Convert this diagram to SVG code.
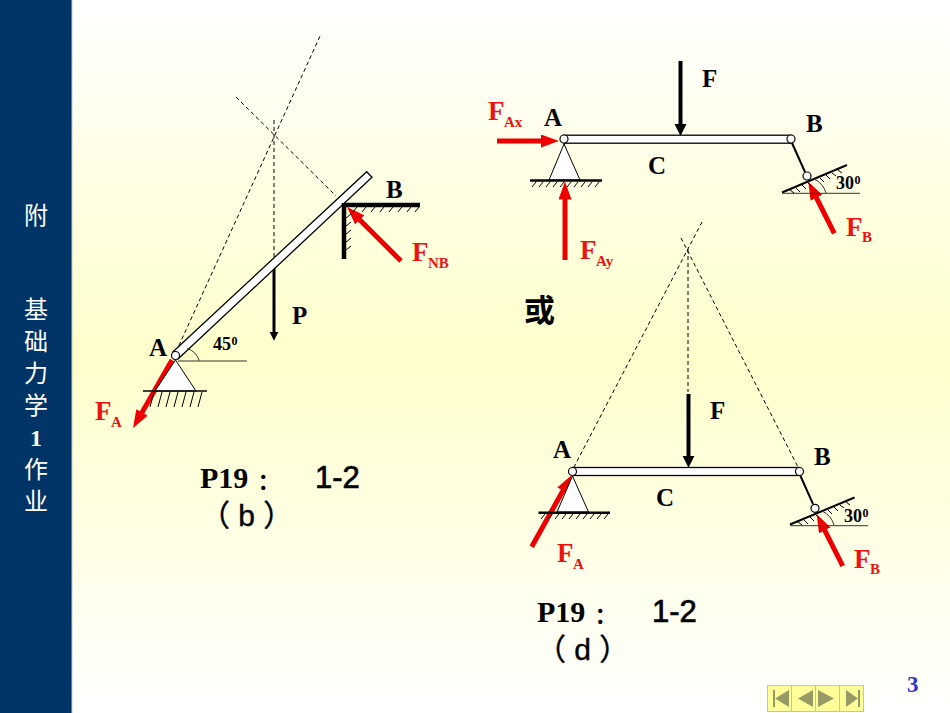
<svg xmlns="http://www.w3.org/2000/svg" width="950" height="713" viewBox="0 0 950 713">
<style>
text{font-family:"Liberation Serif","Noto Sans CJK SC",serif;font-weight:bold}
.lab{font-size:25px;fill:#000}
.red{font-size:27px;fill:#ee1111}
.sub{font-size:15px;fill:#ee1111}
.ang{font-size:18px;fill:#000}
.sup{font-size:12px;fill:#000}
.hd{font-size:30px;fill:#000}
.col{font-family:"Noto Sans CJK SC",sans-serif;font-size:22px;font-weight:bold}
.sans{font-family:"Liberation Sans",sans-serif;font-size:31px;font-weight:normal;fill:#000;stroke:#000;stroke-width:.7}
.par{font-family:"Liberation Sans","Noto Sans CJK SC",sans-serif;font-size:30px;font-weight:normal;fill:#000;stroke:#000;stroke-width:.4}
.side{font-family:"Noto Sans CJK SC","Liberation Serif",sans-serif;font-size:24px;font-weight:normal;fill:#fff;text-anchor:middle}
.dash{fill:none;stroke:#000;stroke-width:1;stroke-dasharray:4 3}
.fr{fill:none;stroke:#ee0000;stroke-width:5;marker-end:url(#hr)}
.fk{fill:none;stroke:#000;stroke-width:4;marker-end:url(#hk)}
.bar{fill:#fff;stroke:#000;stroke-width:1.3}
.pin{fill:#fff;stroke:#000;stroke-width:1.2}
.hat{fill:none;stroke:#000;stroke-width:1}
.thin{fill:none;stroke:#333;stroke-width:1}
.gnd{fill:none;stroke:#000;stroke-width:2.5}
.nav{fill:#ffff99;stroke:#cccc77;stroke-width:1}
.gl{fill:#999966}
</style>
<defs>
<linearGradient id="bg" x1="0" y1="0" x2="0" y2="1">
<stop offset="0" stop-color="#ffffff"/><stop offset=".5" stop-color="#ffffcc"/><stop offset="1" stop-color="#ffffff"/>
</linearGradient>
<marker id="hr" markerUnits="userSpaceOnUse" markerWidth="20" markerHeight="14" refX="4" refY="6.5" orient="auto"><polygon points="0,0 18,6.5 0,13" fill="#ee0000"/></marker>
<marker id="hk" markerUnits="userSpaceOnUse" markerWidth="14" markerHeight="14" refX="1" refY="6" orient="auto"><polygon points="0,0 12,6 0,12" fill="#000"/></marker>
<marker id="hp" markerUnits="userSpaceOnUse" markerWidth="12" markerHeight="12" refX="1" refY="4.5" orient="auto"><polygon points="0,0 9,4.5 0,9" fill="#000"/></marker>
</defs>
<rect width="950" height="713" fill="url(#bg)"/>
<g id="sidebar">
<rect width="71" height="713" fill="#003366"/><rect x="71" width="1.2" height="713" fill="#667f99"/>
<text class="side"><tspan x="36" y="224">附</tspan><tspan x="36" y="318">基</tspan><tspan x="36" y="350">础</tspan><tspan x="36" y="382">力</tspan><tspan x="36" y="414">学</tspan><tspan x="36" y="446" style="font-family:'Liberation Serif',serif;font-weight:bold">1</tspan><tspan x="36" y="478">作</tspan><tspan x="36" y="510">业</tspan></text>
</g>
<g id="connectors">
<path class="dash" d="M176 352L321 34M274 120V262M236 97L336 196"/>
<path class="dash" d="M702 222L574 467M681 238L798 467M688 249V392"/>
<path class="fr" d="M172 360L140 415.9"/>
<path class="fr" d="M401 261L356.9 216.9"/>
<path fill="none" stroke="#000" stroke-width="3" marker-end="url(#hp)" d="M274 264V332.7"/>
<path class="fk" d="M680.500 61V125"/>
<path class="fk" d="M688.500 394V456.700"/>
<path class="fr" d="M497 141H545"/>
<path class="fr" d="M565 260V195.500"/>
<path class="fr" d="M834.300 233.300L814.600 194.200"/>
<path class="fr" d="M531.700 546.700L564.900 487.200"/>
<path class="fr" d="M842.700 566L823 526.800"/>
</g>
<g id="bar-ab-left">
<polygon class="bar" points="173,351.700 366.700,171.700 372,177.300 178,359"/>
<circle class="pin" cx="175.500" cy="355.500" r="4"/>
</g>
<g id="support-a-left">
<polygon class="bar" points="175.500,360 155,391 196,391" style="stroke-width:1"/>
<path class="gnd" style="stroke-width:1.5" d="M143 391H207"/>
<path class="hat" d="M154 392l-4 15M162 392l-4 15M170 392l-4 15M178 392l-4 15M186 392l-4 15M194 392l-4 15M202 392l-4 15"/>
<path class="thin" d="M178 361H247M187.300 348.300A20 20 0 0 1 199.300 360.700"/>
</g>
<g id="wall-b">
<path fill="none" stroke="#000" stroke-width="4.500" d="M344 205H420M344 203V259"/>
<path class="hat" d="M357 207l-4 5M366 207l-4 5M375 207l-4 5M384 207l-4 5M393 207l-4 5M402 207l-4 5M411 207l-4 5M419 207l-4 5M346 218l5-4M346 226l5-4M346 234l5-4M346 242l5-4M346 250l5-4"/>
</g>
<g id="labels-left">
<text class="lab" x="149" y="356">A</text>
<text class="lab" x="386" y="198">B</text>
<text class="lab" x="292" y="324">P</text>
<text class="ang" x="213" y="350">45</text><text class="sup" x="231.500" y="345">0</text>
<text class="red" x="95" y="420">F</text><text class="sub" x="111" y="427">A</text>
<text class="red" x="412" y="261">F</text><text class="sub" x="428" y="268">NB</text>
<text class="hd" x="200" y="488">P19 <tspan class="col" dx="2" dy="1">：</tspan></text><text class="sans" x="315" y="488">1-2</text>
<text class="par" x="200" y="526">（ b ）</text>
</g>
<g id="beam-top">
<rect class="bar" x="564" y="135.200" width="227" height="8"/>
<circle class="pin" cx="564" cy="139" r="4"/><circle class="pin" cx="791" cy="139" r="4"/>
</g>
<g id="support-a-top">
<polygon class="bar" points="564,144 549,180 580,180" style="stroke-width:1"/>
<path class="gnd" d="M530 180.500H602"/>
<path class="hat" d="M536 182l-4 5M543 182l-4 5M550 182l-4 5M557 182l-4 5M564 182l-4 5M571 182l-4 5M578 182l-4 5M585 182l-4 5M592 182l-4 5M599 182l-4 5"/>
</g>
<g id="support-b-top">
<path fill="none" stroke="#000" stroke-width="2" d="M792 143L805 172"/>
<path fill="none" stroke="#000" stroke-width="2" d="M782 192.500L847 165"/>
<path class="thin" d="M782 193.300H860M814 179A22 22 0 0 1 826 193"/>
<path class="hat" d="M790 190l4 3M796 188l4 4M802 185l4 4M808 183l4 4M820 178l4 4M826 175l4 4M832 173l4 3M838 170l4 3"/>
<circle class="pin" cx="807" cy="176" r="4"/>
</g>
<g id="labels-top">
<text class="red" x="488" y="120">F</text><text class="sub" x="504" y="127">Ax</text>
<text class="lab" x="544" y="126">A</text>
<text class="lab" x="702" y="87">F</text>
<text class="lab" x="806" y="132">B</text>
<text class="lab" x="648" y="174">C</text>
<text class="red" x="580" y="259">F</text><text class="sub" x="596" y="266">Ay</text>
<text class="ang" x="836" y="189">30</text><text class="sup" x="854.500" y="184">0</text>
<text class="red" x="846" y="236">F</text><text class="sub" x="862" y="242">B</text>
</g>
<g id="or-label">
<text x="524" y="321" style="font-family:'Noto Sans CJK SC',sans-serif;font-size:31px;fill:#000">或</text>
</g>
<g id="beam-bottom">
<rect class="bar" x="572.500" y="467.500" width="227" height="8"/>
<circle class="pin" cx="572.500" cy="471.500" r="4"/><circle class="pin" cx="799.500" cy="471.500" r="4"/>
</g>
<g id="support-a-bottom">
<polygon class="bar" points="572.500,476 557,512 588.500,512" style="stroke-width:1"/>
<path class="gnd" d="M538.500 512.800H610"/>
<path class="hat" d="M545 514l-4 5M552 514l-4 5M559 514l-4 5M566 514l-4 5M573 514l-4 5M580 514l-4 5M587 514l-4 5M594 514l-4 5M601 514l-4 5M608 514l-4 5"/>
</g>
<g id="support-b-bottom">
<path fill="none" stroke="#000" stroke-width="2" d="M800.500 476L813 504"/>
<path fill="none" stroke="#000" stroke-width="2" d="M790 524.500L854.500 497.500"/>
<path class="thin" d="M790 525.700H868M822 511A22 22 0 0 1 834 525"/>
<path class="hat" d="M798 522l4 3M804 520l4 4M810 517l4 4M816 515l4 4M828 510l4 4M834 507l4 4M840 505l4 3M846 502l4 3"/>
<circle class="pin" cx="815" cy="508.300" r="4"/>
</g>
<g id="labels-bottom">
<text class="lab" x="553" y="458">A</text>
<text class="lab" x="710" y="419">F</text>
<text class="lab" x="814" y="465">B</text>
<text class="lab" x="656" y="506">C</text>
<text class="ang" x="844" y="522">30</text><text class="sup" x="862.500" y="517">0</text>
<text class="red" x="557" y="562">F</text><text class="sub" x="573" y="569">A</text>
<text class="red" x="854" y="568">F</text><text class="sub" x="870" y="574">B</text>
<text class="hd" x="537" y="622">P19 <tspan class="col" dx="2" dy="1">：</tspan></text><text class="sans" x="652" y="622">1-2</text>
<text class="par" x="536" y="660">（ d ）</text>
</g>
<g id="nav-buttons">
<rect class="nav" x="767.500" y="685.500" width="24" height="26"/>
<rect class="nav" x="791.500" y="685.500" width="24" height="26"/>
<rect class="nav" x="815.500" y="685.500" width="24" height="26"/>
<rect class="nav" x="839.500" y="685.500" width="24" height="26"/>
<path class="gl" d="M773 690h2v17h-2zM775 698.500L789 690V707zM798 698.500L813 690V707zM818 690L834 698.500L818 707zM846 690L858 698.500L846 707zM858 690h2v17h-2z"/>
</g>
<g id="page-number">
<text x="907" y="692" style="font-size:23px;fill:#3333cc">3</text>
</g>
</svg>
